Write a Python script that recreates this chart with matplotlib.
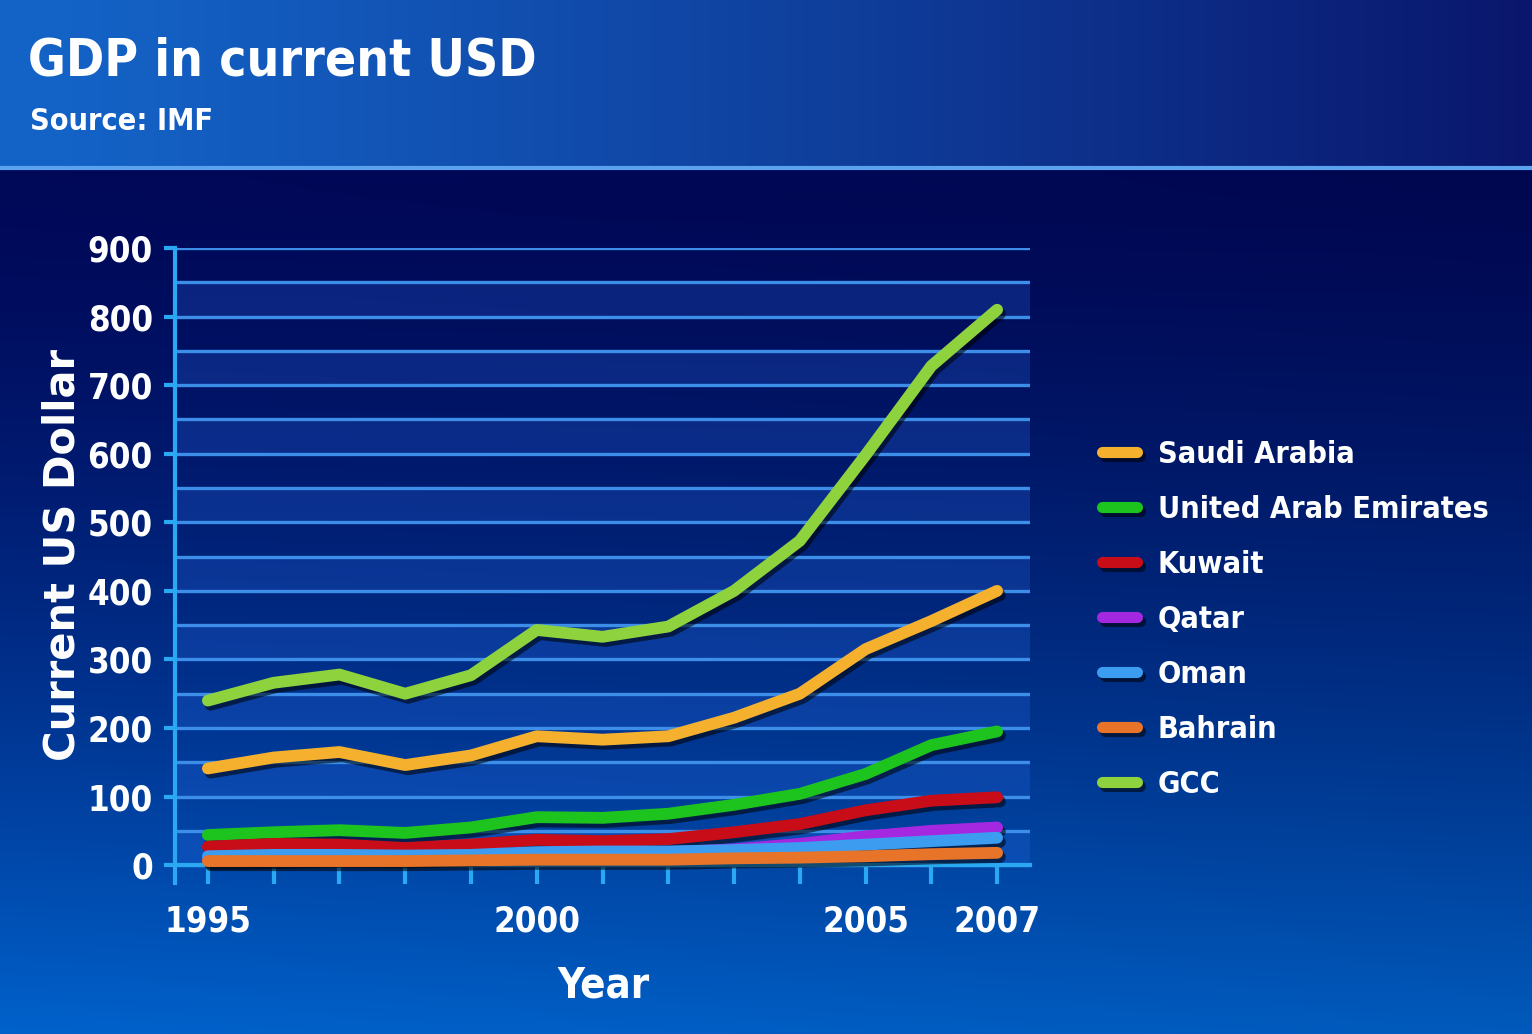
import numpy as np
import matplotlib.pyplot as plt
import matplotlib.patheffects as pe
from matplotlib import font_manager
from matplotlib.colors import to_rgb

# GDP, billions of current USD
years = list(range(1995, 2008))
saudi = [141, 157, 165, 146, 160, 188, 183, 188, 215, 250, 315, 356, 400]
uae = [44, 48, 51, 47, 55, 70, 69, 75, 88, 104, 133, 175, 195]
kuwait = [27, 31, 30, 25, 30, 37, 35, 38, 48, 60, 80, 94, 99]
qatar = [8, 9, 11, 10, 12, 17, 17, 19, 23, 31, 42, 50, 55]
oman = [13, 15, 15, 14, 15, 19, 20, 20, 22, 25, 30, 35, 40]
bahrain = [6, 6, 6, 6, 7, 8, 8, 8, 10, 11, 13, 16, 18]
gcc = [240, 266, 278, 250, 277, 343, 333, 348, 400, 473, 598, 728, 810]

names = ['Saudi Arabia', 'United Arab Emirates', 'Kuwait', 'Qatar', 'Oman', 'Bahrain', 'GCC']
series = [saudi, uae, kuwait, qatar, oman, bahrain, gcc]
colors = ['#f5b02e', '#1ec41e', '#c80c18', '#a428e0', '#3c9cf0', '#e8742a', '#8ed23e']

y_ticks = list(range(0, 1000, 100))
x_ticks = [1995, 2000, 2005, 2007]


def pick_narrow():
    # look for a condensed bold face; fall back to Liberation Sans
    for fam, st in [('Liberation Sans Narrow', 'normal'), ('DejaVu Sans', 'condensed'),
                    ('Roboto Condensed', 'normal'), ('Open Sans', 'condensed')]:
        fp = font_manager.FontProperties(family=fam, weight='bold', stretch=st)
        try:
            path = font_manager.findfont(fp, fallback_to_default=False)
        except Exception:
            continue
        low = path.lower()
        if 'narrow' in low or 'condensed' in low:
            return fam, st, True
    return 'Liberation Sans', 'normal', False


NARROW, STRETCH, IS_NARROW = pick_narrow()
scale = 1.0 if IS_NARROW else 0.95


def nfont(size):
    return dict(family=NARROW, fontstretch=STRETCH, fontweight='bold', fontsize=size * scale)


W, H = 1532, 1034
fig = plt.figure(figsize=(W / 100, H / 100), dpi=100)

# background gradient image
bg = np.zeros((H, W, 3))
xs = np.linspace(0, 1, W)
head = 168
c1, c2 = np.array(to_rgb('#1464c8')), np.array(to_rgb('#0a166c'))
for i in range(head):
    bg[i] = c1[None, :] * (1 - xs[:, None] ** 1.2) + c2[None, :] * xs[:, None] ** 1.2
top, bot = np.array(to_rgb('#000858')), np.array(to_rgb('#0062cc'))
ys = np.linspace(0, 1, H - head)
for j, t in enumerate(ys):
    row = top * (1 - t ** 1.5) + bot * t ** 1.5
    bg[head + j] = row[None, :] * (1 - 0.08 * xs[:, None])
bg_ax = fig.add_axes([0, 0, 1, 1], zorder=-10)
bg_ax.imshow(bg, aspect='auto', extent=(0, W, H, 0))
bg_ax.plot([0, W], [head, head], color='#5aa2ee', lw=3)
bg_ax.set_xlim(0, W)
bg_ax.set_ylim(H, 0)
bg_ax.axis('off')

fig.text(28 / W, 1 - 62 / H, 'GDP in current USD', color='white', va='center', **nfont(37))
fig.text(30 / W, 1 - 121 / H, 'Source: IMF', color='white', va='center', **nfont(22))

ax = fig.add_axes([175 / W, 1 - 883 / H, (1030 - 175) / W, (883 - 248) / H])
ax.patch.set_alpha(0)
ax.set_xlim(1994.5, 2007.5)
ax.set_ylim(-26, 900)

for lo in range(0, 900, 100):
    ax.axhspan(lo, lo + 50, color='#2a6ae6', alpha=0.25, lw=0, zorder=0)
for g in range(0, 950, 50):
    ax.axhline(g, color='#3c8ee8', lw=2.4, zorder=1)

shadow = [pe.SimpleLineShadow(offset=(2, -3), shadow_color='black', alpha=0.55), pe.Normal()]
for name, vals, col in zip(names, series, colors):
    ax.plot(years, vals, color=col, lw=8.5, solid_capstyle='round',
            solid_joinstyle='round', label=name, zorder=3, path_effects=shadow)

for s in ['top', 'right']:
    ax.spines[s].set_visible(False)
ax.spines['left'].set_color('#2aa8f2')
ax.spines['left'].set_linewidth(3)
ax.spines['bottom'].set_color('#2aa8f2')
ax.spines['bottom'].set_linewidth(3)
ax.spines['bottom'].set_position(('data', 0))

ax.set_yticks(y_ticks)
ax.set_yticklabels([str(v) for v in y_ticks])
ax.set_xticks(years, minor=True)
ax.set_xticks(x_ticks)
ax.tick_params(axis='y', colors='#2aa8f2', length=8, width=3, pad=8)
ax.tick_params(axis='x', which='both', colors='#2aa8f2', length=14, width=3, direction='out', pad=14)
tick_font = nfont(25)
for lab in ax.get_xticklabels() + ax.get_yticklabels():
    lab.set_color('white')
    lab.set_fontsize(tick_font['fontsize'])
    lab.set_fontweight('bold')
    lab.set_family(NARROW)
    lab.set_fontstretch(STRETCH)

fig.text(63 / W, 1 - 555 / H, 'Current US Dollar', color='white', fontsize=30,
         fontweight='bold', family='DejaVu Sans', rotation=90, ha='center', va='center')
fig.text(603 / W, 1 - 985 / H, 'Year', color='white', ha='center', va='center', **nfont(30))

leg_font = nfont(22)
leg = ax.legend(loc='upper left', bbox_to_anchor=(1102 / W, 1 - 440 / H),
                bbox_transform=fig.transFigure, frameon=False, handlelength=1.15,
                handletextpad=0.68, labelspacing=0.85, borderpad=0, borderaxespad=0,
                prop={'family': NARROW, 'stretch': STRETCH, 'weight': 'bold',
                      'size': leg_font['fontsize']})
for t in leg.get_texts():
    t.set_color('white')
for h in leg.legend_handles:
    h.set_linewidth(8)

fig.savefig('out.png', dpi=100)
